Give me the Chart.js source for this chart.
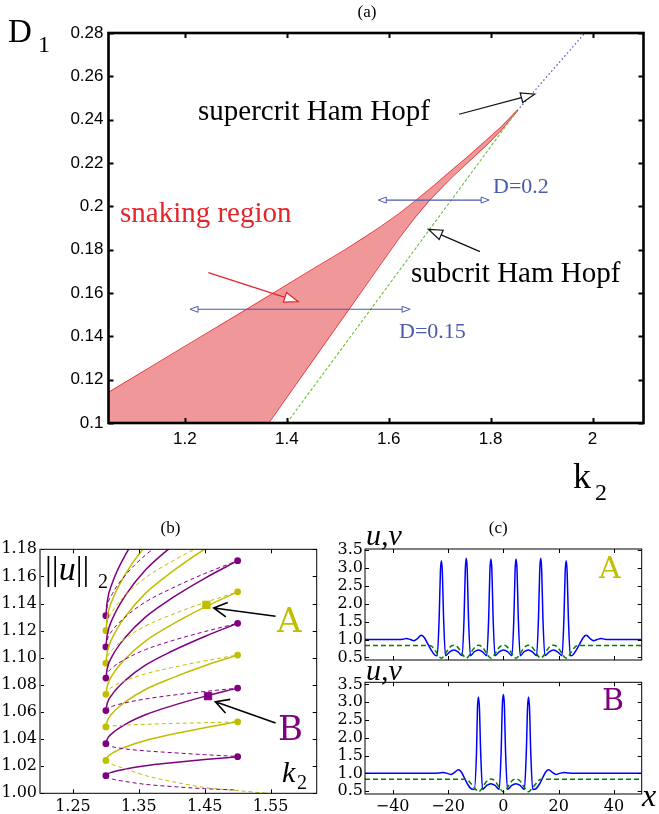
<!DOCTYPE html>
<html><head><meta charset="utf-8">
<script src="https://cdn.jsdelivr.net/npm/chart.js@4.4.1/dist/chart.umd.min.js"></script>
<style>
html,body{margin:0;padding:0;background:#fff;}
#page{position:relative;width:659px;height:814px;overflow:hidden;background:#fff;}
canvas{position:absolute;}
.t{position:absolute;white-space:nowrap;line-height:1;}
</style></head><body><div id="page">
<canvas id="ca"></canvas><canvas id="cb"></canvas><canvas id="cc1"></canvas><canvas id="cc2"></canvas>
</div>
<script>
// ---- panel (a): snaking region in (k2, D1) ----
const aTicksK = [1.2, 1.4, 1.6, 1.8, 2];
const aTicksD = [0.1, 0.12, 0.14, 0.16, 0.18, 0.2, 0.22, 0.24, 0.26, 0.28];
const snakeUpperK = [1.05, 1.20, 1.32, 1.45, 1.514, 1.55, 1.583, 1.62, 1.655, 1.69, 1.72, 1.755, 1.79, 1.822, 1.852];
const snakeUpperD = [0.114, 0.1353, 0.1522, 0.1708, 0.1798, 0.1852, 0.1903, 0.1965, 0.2029, 0.2097, 0.2158, 0.2228, 0.2300, 0.2369, 0.2441];
const snakeLowerK = [1.364, 1.45, 1.52, 1.58, 1.62, 1.65, 1.68, 1.705, 1.725, 1.755, 1.79, 1.822, 1.852];
const snakeLowerD = [0.1, 0.1287, 0.152, 0.172, 0.1853, 0.1946, 0.2029, 0.2090, 0.2137, 0.2203, 0.2280, 0.2356, 0.2441];
const hopfSubK = [1.400, 1.852];
const hopfSubD = [0.1, 0.2441];
const hopfSupK = [1.852, 1.985];
const hopfSupD = [0.2441, 0.28];

// ---- panel (b): snaking branches, ||u||_2 vs k2 ----
const bTicksK = [1.25, 1.35, 1.45, 1.55];
const bTicksN = [1.00, 1.02, 1.04, 1.06, 1.08, 1.10, 1.12, 1.14, 1.16, 1.18];
const branchK = [1.30, 1.302, 1.31, 1.33, 1.36, 1.40, 1.45, 1.50];
const purpleSolid = [
  [1.013, 1.0141, 1.0157, 1.0179, 1.0203, 1.0225, 1.0249, 1.027],
  [1.0366, 1.0399, 1.0444, 1.0510, 1.0579, 1.0645, 1.0715, 1.0776],
  [1.061, 1.0662, 1.0732, 1.0835, 1.0945, 1.1048, 1.1157, 1.1254],
  [1.085, 1.0919, 1.1015, 1.1153, 1.1300, 1.1439, 1.1586, 1.1716],
  [1.108, 1.1167, 1.1287, 1.1462, 1.1647, 1.1821, 1.2007, 1.217],
  [1.131, 1.1413, 1.1555, 1.1762, 1.1981, 1.2187, 1.2407, 1.26]
];
const purpleDashed = [
  [1.013, 1.0120, 1.0105, 1.0087, 1.0066, 1.0050, 1.0034, 1.0024],
  [1.0366, 1.0356, 1.0343, 1.0327, 1.0313, 1.0300, 1.0285, 1.0272],
  [1.061, 1.0623, 1.0642, 1.0668, 1.0696, 1.0723, 1.0751, 1.0776],
  [1.085, 1.0882, 1.0927, 1.0991, 1.1060, 1.1125, 1.1193, 1.1254],
  [1.108, 1.1131, 1.1201, 1.1303, 1.1411, 1.1512, 1.1621, 1.1716],
  [1.131, 1.1379, 1.1473, 1.1611, 1.1757, 1.1895, 1.2041, 1.217]
];
const yellowSolid = [
  [1.0242, 1.0265, 1.0296, 1.0342, 1.0390, 1.0436, 1.0484, 1.0527],
  [1.049, 1.0532, 1.0591, 1.0676, 1.0766, 1.0850, 1.0941, 1.102],
  [1.073, 1.0790, 1.0874, 1.0995, 1.1123, 1.1244, 1.1373, 1.1486],
  [1.096, 1.1039, 1.1148, 1.1307, 1.1475, 1.1633, 1.1802, 1.195],
  [1.120, 1.1296, 1.1428, 1.162, 1.1824, 1.2016, 1.222, 1.24]
];
const yellowDashed = [
  [1.049, 1.0493, 1.0497, 1.0503, 1.0509, 1.0515, 1.0521, 1.0527],
  [1.073, 1.0753, 1.0785, 1.0832, 1.0881, 1.0927, 1.0977, 1.102],
  [1.096, 1.1002, 1.1060, 1.1144, 1.1234, 1.1318, 1.1407, 1.1486],
  [1.120, 1.1260, 1.1343, 1.1463, 1.1590, 1.1710, 1.1838, 1.195]
];
const yellowTailK = [1.30, 1.302, 1.31, 1.33, 1.36, 1.40, 1.45, 1.50, 1.545];
const yellowTailN = [1.0242, 1.0232, 1.0212, 1.0180, 1.0131, 1.0087, 1.0043, 1.0020, 1.0];
const foldLeftK = 1.30, foldRightK = 1.50;
const purpleLeftN = [1.013, 1.0366, 1.061, 1.085, 1.108, 1.131];
const purpleRightN = [1.027, 1.0776, 1.1254, 1.1716];
const yellowLeftN = [1.0242, 1.049, 1.073, 1.096, 1.120];
const yellowRightN = [1.0527, 1.102, 1.1486];
const pointA = [1.4526, 1.139];
const pointB = [1.455, 1.0717];

// ---- panel (c): profiles u (solid) and v (dashed) ----
const cTicksX = [-40, -20, 0, 20, 40];
const cTicksU = [0.5, 1.0, 1.5, 2.0, 2.5, 3.0, 3.5];
const profAx = [-50,-38,-36.3,-35,-33.6,-32.3,-31,-29.7,-28.6,-27.3,-26,-24.8,
  -23.9,-23.2,-22.75,-22.4,-22.05,-21.6,-20.9, -19.4,-17.9,-16.4,
  -14.9,-14.2,-13.75,-13.4,-13.05,-12.6,-11.9, -10.5,-9.0,-7.5,
  -6.0,-5.3,-4.85,-4.5,-4.15,-3.7,-3.0, -1.5,0.05,1.6,
  3.1,3.8,4.25,4.6,4.95,5.4,6.1, 7.5,9.05,10.5,
  12.0,12.7,13.15,13.5,13.85,14.3,15.0, 16.6,18.1,19.6,
  21.2,21.9,22.35,22.7,23.05,23.5,24.2,
  25.1,26.3,27.6,28.9,30.0,31.3,32.6,33.9,35.3,36.6,38.3,50];
const profAu = [1.0,1.0,1.01,1.03,1.0,0.97,1.03,1.12,1.06,0.88,0.7,0.57,
  0.55,1.6,2.9,3.2,2.9,1.6,0.55, 0.66,0.71,0.66,
  0.55,1.6,2.95,3.27,2.95,1.6,0.55, 0.66,0.71,0.66,
  0.55,1.6,2.95,3.25,2.95,1.6,0.55, 0.66,0.71,0.66,
  0.55,1.6,2.95,3.25,2.95,1.6,0.55, 0.66,0.71,0.66,
  0.55,1.6,2.95,3.27,2.95,1.6,0.55, 0.66,0.71,0.66,
  0.55,1.6,2.9,3.2,2.9,1.6,0.55,
  0.57,0.7,0.88,1.06,1.12,1.03,0.97,1.0,1.03,1.01,1.0,1.0];
const profAvx = [-50,-27,-26,-24.8,-23.6,-22.4,-21.2,-20,-19,-17.9,-16.8,-15.8,-14.6,-13.4,
  -12.2,-11,-10,-8.95,-7.9,-6.9,-5.7,-4.5,-3.3,-2.1,-1.1,0.05,1.2,2.2,3.4,4.6,5.8,7.0,8.0,
  9.05,10.1,11.1,12.3,13.5,14.7,15.9,16.9,18.1,19.3,20.3,21.5,22.7,23.9,25.1,26.3,27.3,50];
const profAv = [0.835,0.835,0.82,0.72,0.57,0.48,0.57,0.72,0.81,0.845,0.81,0.72,0.57,0.48,
  0.57,0.72,0.81,0.845,0.81,0.72,0.57,0.48,0.57,0.72,0.81,0.845,0.81,0.72,0.57,0.48,0.57,0.72,0.81,
  0.845,0.81,0.72,0.57,0.48,0.57,0.72,0.81,0.845,0.81,0.72,0.57,0.48,0.57,0.72,0.82,0.835,0.835];
const profBx = [-50,-25,-23.3,-21.8,-20.2,-18.9,-17.6,-16.3,-15.2,-14,-12.8,-11.5,-10.5,
  -9.7,-9.35,-9,-8.65,-8.2,-7.5, -6,-4.5,-3,
  -1.5,-0.8,-0.35,0,0.35,0.8,1.5, 3.05,4.55,6.05,
  7.6,8.3,8.75,9.1,9.45,9.9,10.6,
  11.6,12.9,14.1,15.3,16.4,17.7,19.0,20.3,21.9,23.4,25.1,50];
const profBu = [1.0,1.0,1.01,1.025,1.0,0.97,1.03,1.1,1.04,0.86,0.68,0.56,0.55,
  1.6,2.85,3.15,2.85,1.6,0.55, 0.66,0.71,0.66,
  0.55,1.6,2.95,3.22,2.95,1.6,0.55, 0.66,0.71,0.66,
  0.55,1.6,2.85,3.15,2.85,1.6,0.55,
  0.56,0.68,0.86,1.04,1.1,1.03,0.97,1.0,1.025,1.01,1.0,1.0];
const profBvx = [-50,-14,-13,-11.8,-10.2,-9,-7.8,-6.6,-5.6,-4.5,-3.4,-2.4,-1.2,0,
  1.2,2.4,3.4,4.55,5.7,6.7,7.9,9.1,10.3,11.9,13.1,14.1,50];
const profBv = [0.835,0.835,0.82,0.72,0.57,0.48,0.57,0.72,0.81,0.845,0.81,0.72,0.57,0.48,
  0.57,0.72,0.81,0.845,0.81,0.72,0.57,0.48,0.57,0.72,0.82,0.835,0.835];

const PURPLE = '#800080', YELLOW = '#bfbf00', RED = '#e3262b', DBLUE = '#4a5aae';

// annotation arrows (data coordinates)
const arrowsA = [
  {from: [1.738, 0.2425], to: [1.887, 0.2518], color: '#111', head: 'tri'},
  {from: [1.779, 0.1791], to: [1.6777, 0.1894], color: '#111', head: 'tri'},
  {from: [1.2459, 0.1694], to: [1.4225, 0.156], color: RED, head: 'tri'},
  {from: [1.21, 0.1525], to: [1.642, 0.1525], color: DBLUE, head: 'double'},
  {from: [1.5795, 0.2029], to: [1.797, 0.2029], color: DBLUE, head: 'double'}
];
const arrowsB = [
  {from: [1.5576, 1.1306], to: [1.4637, 1.1367], color: '#000', head: 'open'},
  {from: [1.5576, 1.0519], to: [1.4663, 1.0675], color: '#000', head: 'open'}
];

Chart.defaults.font.family = 'DejaVu Serif';

const pts = (xs, ys) => xs.map((x, i) => ({x: x, y: ys[i]}));

const framePlugin = {
  id: 'frame',
  afterDraw(chart, args, o) {
    const {ctx, chartArea: a, scales: {x, y}} = chart;
    ctx.save();
    ctx.strokeStyle = '#000';
    ctx.lineWidth = o.tickWidth;
    ctx.beginPath();
    o.xt.forEach(v => {
      const px = Math.round(x.getPixelForValue(v)) + 0.5;
      ctx.moveTo(px, a.bottom); ctx.lineTo(px, a.bottom - o.len);
      ctx.moveTo(px, a.top); ctx.lineTo(px, a.top + o.len);
    });
    o.yt.forEach(v => {
      const py = Math.round(y.getPixelForValue(v)) + 0.5;
      ctx.moveTo(a.left, py); ctx.lineTo(a.left + o.len, py);
      ctx.moveTo(a.right, py); ctx.lineTo(a.right - o.len, py);
    });
    ctx.stroke();
    ctx.lineWidth = o.width;
    ctx.strokeRect(a.left, a.top, a.right - a.left, a.bottom - a.top);
    if (o.leftColor) {
      ctx.strokeStyle = o.leftColor; ctx.lineWidth = o.leftWidth;
      ctx.beginPath(); ctx.moveTo(a.left, a.top); ctx.lineTo(a.left, a.bottom); ctx.stroke();
    }
    ctx.restore();
  }
};

function head(ctx, tx, ty, ang, L, W, fill) {
  const bx = tx - L * Math.cos(ang), by = ty - L * Math.sin(ang);
  const nx = -Math.sin(ang) * W, ny = Math.cos(ang) * W;
  ctx.beginPath();
  ctx.moveTo(tx, ty); ctx.lineTo(bx + nx, by + ny); ctx.lineTo(bx - nx, by - ny); ctx.closePath();
  ctx.fillStyle = fill; ctx.fill(); ctx.stroke();
  return [bx, by];
}

const arrowPlugin = {
  id: 'arrows',
  afterDatasetsDraw(chart, args, o) {
    const {ctx, scales: {x, y}} = chart;
    (o.items || []).forEach(a => {
      const x0 = x.getPixelForValue(a.from[0]), y0 = y.getPixelForValue(a.from[1]);
      const x1 = x.getPixelForValue(a.to[0]), y1 = y.getPixelForValue(a.to[1]);
      const ang = Math.atan2(y1 - y0, x1 - x0);
      ctx.save();
      ctx.strokeStyle = a.color; ctx.lineWidth = 1.2; ctx.lineJoin = 'miter';
      if (a.head === 'tri') {
        const L = 14, bx = x1 - L * Math.cos(ang), by = y1 - L * Math.sin(ang);
        ctx.beginPath(); ctx.moveTo(x0, y0); ctx.lineTo(bx, by); ctx.stroke();
        head(ctx, x1, y1, ang, L, 5, '#fff');
      } else if (a.head === 'double') {
        ctx.beginPath(); ctx.moveTo(x0 + 7, y0); ctx.lineTo(x1 - 7, y1); ctx.stroke();
        ctx.lineWidth = 1;
        head(ctx, x1, y1, ang, 8, 3, '#fff');
        head(ctx, x0, y0, ang + Math.PI, 8, 3, '#fff');
      } else {
        ctx.lineWidth = 1.6;
        ctx.beginPath(); ctx.moveTo(x0, y0); ctx.lineTo(x1, y1);
        const L = 15, sp = 0.5;
        ctx.moveTo(x1 - L * Math.cos(ang - sp), y1 - L * Math.sin(ang - sp));
        ctx.lineTo(x1, y1);
        ctx.lineTo(x1 - L * Math.cos(ang + sp), y1 - L * Math.sin(ang + sp));
        ctx.stroke();
      }
      ctx.restore();
    });
  }
};

function axis(spec, dir, size) {
  return {
    type: 'linear', min: spec.min, max: spec.max,
    grid: {display: false, drawTicks: false}, border: {display: false},
    ticks: {display: spec.show !== false, font: spec.font, color: '#000', padding: spec.pad,
      callback: spec.fmt, maxRotation: 0, autoSkip: false},
    afterBuildTicks: s => { s.ticks = spec.ticks.map(v => ({value: v})); },
    afterFit: s => {
      if (dir === 'x') s.height = size; else s.width = size;
      s.paddingLeft = s.paddingRight = s.paddingTop = s.paddingBottom = 0;
    }
  };
}

function makeChart(id, box, area, xs, ys, datasets, frame, arrows) {
  const cv = document.getElementById(id);
  cv.width = box.w; cv.height = box.h;
  cv.style.left = box.x + 'px'; cv.style.top = box.y + 'px';
  return new Chart(cv, {
    type: 'scatter',
    data: {datasets: datasets},
    options: {
      responsive: false, animation: false, events: [],
      layout: {padding: {left: 0, top: area.t - box.y, right: box.x + box.w - area.r, bottom: 0}},
      plugins: {legend: {display: false}, tooltip: {enabled: false},
        frame: Object.assign({xt: xs.ticks, yt: ys.ticks}, frame),
        arrows: {items: arrows || []}},
      scales: {x: axis(xs, 'x', box.y + box.h - area.b), y: axis(ys, 'y', area.l - box.x)}
    },
    plugins: [framePlugin, arrowPlugin]
  });
}

const line = (data, color, width, dash, extra) => Object.assign({
  data: data, showLine: true, borderColor: color, borderWidth: width, borderDash: dash || [],
  pointRadius: 0, fill: false, tension: 0
}, extra || {});

// ---- draw panel (a) ----
const polyK = snakeUpperK.concat(snakeLowerK.slice().reverse(), [snakeUpperK[0]]);
const polyD = snakeUpperD.concat(snakeLowerD.slice().reverse(), [aTicksD[0]]);
const sansA = {family: 'Liberation Sans', size: 17};
makeChart('ca', {x: 0, y: 0, w: 659, h: 460}, {l: 108.5, r: 643.5, t: 33, b: 423},
  {min: 1.05, max: 2.1, ticks: aTicksK, font: sansA, pad: 6, fmt: v => String(v)},
  {min: 0.1, max: 0.28, ticks: aTicksD, font: sansA, pad: 5, fmt: v => String(v)},
  [
    line(pts(polyK, polyD), 'rgba(0,0,0,0)', 0, null, {fill: 'shape', backgroundColor: '#f09899'}),
    line(pts(hopfSubK, hopfSubD), '#6cbf3a', 1.1, [3, 2]),
    line(pts(hopfSupK, hopfSupD), '#4848c8', 1.2, [1.5, 2.5]),
    line(pts(snakeUpperK, snakeUpperD), RED, 1.3),
    line(pts(snakeLowerK, snakeLowerD), RED, 1.3)
  ],
  {len: 5, tickWidth: 2, width: 2.6}, arrowsA);

// ---- draw panel (b) ----
const serif16 = {family: 'DejaVu Serif', size: 16};
const bSets = [];
purpleDashed.forEach(v => bSets.push(line(pts(branchK, v), PURPLE, 1, [4, 3], {cubicInterpolationMode: 'monotone'})));
yellowDashed.forEach(v => bSets.push(line(pts(branchK, v), YELLOW, 1, [4, 3], {cubicInterpolationMode: 'monotone'})));
bSets.push(line(pts(yellowTailK, yellowTailN), YELLOW, 1, [4, 3], {cubicInterpolationMode: 'monotone'}));
purpleSolid.forEach(v => bSets.push(line(pts(branchK, v), PURPLE, 1.5, null, {cubicInterpolationMode: 'monotone'})));
yellowSolid.forEach(v => bSets.push(line(pts(branchK, v), YELLOW, 1.5, null, {cubicInterpolationMode: 'monotone'})));
const dots = (k, arr, color) => ({data: arr.map(n => ({x: k, y: n})), pointRadius: 3.4,
  pointBackgroundColor: color, pointBorderColor: color, borderWidth: 0, showLine: false});
bSets.push(dots(foldLeftK, purpleLeftN, PURPLE), dots(foldRightK, purpleRightN, PURPLE),
  dots(foldLeftK, yellowLeftN, YELLOW), dots(foldRightK, yellowRightN, YELLOW));
bSets.push({data: [{x: pointA[0], y: pointA[1]}], pointStyle: 'rect', pointRadius: 5.2,
  pointBackgroundColor: YELLOW, pointBorderColor: YELLOW, showLine: false});
bSets.push({data: [{x: pointB[0], y: pointB[1]}], pointStyle: 'rect', pointRadius: 5.2,
  pointBackgroundColor: PURPLE, pointBorderColor: PURPLE, showLine: false});
makeChart('cb', {x: 0, y: 530, w: 330, h: 284}, {l: 40, r: 316.7, t: 549.3, b: 793.3},
  {min: 1.2, max: 1.62, ticks: bTicksK, font: serif16, pad: 4, fmt: v => v.toFixed(2)},
  {min: 1.0, max: 1.18, ticks: bTicksN, font: serif16, pad: 3, fmt: v => v.toFixed(2)},
  bSets, {len: 4, tickWidth: 1, width: 1, leftColor: '#777', leftWidth: 2}, arrowsB);

// ---- draw panel (c) ----
const fmtX = v => v < 0 ? '\u2212' + Math.abs(v) : String(v);
const cSets = (ux, uu, vx, vv) => [
  line(pts(vx, vv), '#008000', 1.5, [5, 3], {cubicInterpolationMode: 'monotone'}),
  line(pts(ux, uu), '#0000ff', 1.5, null, {cubicInterpolationMode: 'monotone'})
];
makeChart('cc1', {x: 330, y: 540, w: 329, h: 130}, {l: 365, r: 641.7, t: 549, b: 660},
  {min: -50, max: 50, ticks: cTicksX, font: serif16, pad: 4, fmt: fmtX, show: false},
  {min: 0.43, max: 3.53, ticks: cTicksU, font: serif16, pad: 2, fmt: v => v.toFixed(1)},
  cSets(profAx, profAu, profAvx, profAv), {len: 4, tickWidth: 1, width: 1});
makeChart('cc2', {x: 330, y: 670, w: 329, h: 144}, {l: 365, r: 641.7, t: 682.3, b: 794},
  {min: -50, max: 50, ticks: cTicksX, font: serif16, pad: 3, fmt: fmtX},
  {min: 0.42, max: 3.56, ticks: cTicksU, font: serif16, pad: 2, fmt: v => v.toFixed(1)},
  cSets(profBx, profBu, profBvx, profBv), {len: 4, tickWidth: 1, width: 1});

// ---- text labels ----
const page = document.getElementById('page');
const RATIO = {'Liberation Serif': 0.8375, 'DejaVu Serif': 0.846};
function label(html, x, base, size, o) {
  o = o || {};
  const fam = o.family || 'Liberation Serif';
  const d = document.createElement('div');
  d.className = 't';
  d.innerHTML = html;
  d.style.left = x + 'px';
  d.style.top = (base - size * RATIO[fam]) + 'px';
  d.style.fontSize = size + 'px';
  d.style.fontFamily = '"' + fam + '"';
  d.style.color = o.color || '#000';
  if (o.italic) d.style.fontStyle = 'italic';
  if (o.center) d.style.transform = 'translateX(-50%)';
  page.appendChild(d);
}
label('(a)', 367, 17, 17, {center: true});
label('D', 8, 43, 33);
label('1', 38, 52, 24);
label('supercrit Ham Hopf', 198, 120, 29);
label('snaking region', 120, 222.7, 29, {color: RED});
label('D=0.2', 493, 193, 22, {color: DBLUE});
label('subcrit Ham Hopf', 411, 282, 29);
label('D=0.15', 399, 338, 22, {color: DBLUE});
label('k', 573, 488, 36);
label('2', 595, 500, 24);

label('(b)', 170.5, 533, 17, {center: true});
label('<span style="font-style:normal">||</span>u<span style="font-style:normal">||</span>', 45, 580, 34, {italic: true});
label('2', 98, 588, 20);
label('k', 282, 782, 30, {italic: true});
label('2', 297, 789, 20);
label('A', 277, 632, 34, {family: 'DejaVu Serif', color: YELLOW});
label('B', 278, 740, 34, {family: 'DejaVu Serif', color: PURPLE});

label('(c)', 498.3, 533, 17, {center: true});
label('u,v', 366, 545, 30, {italic: true});
label('u,v', 366, 680, 30, {italic: true});
label('A', 599, 578, 30, {family: 'DejaVu Serif', color: YELLOW});
label('B', 602, 710, 30, {family: 'DejaVu Serif', color: PURPLE});
label('x', 642, 806, 32, {italic: true});
</script>
</body></html>
